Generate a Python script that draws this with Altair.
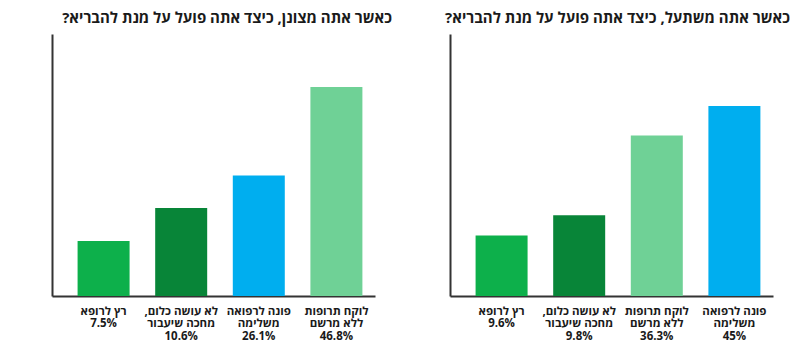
import altair as alt
import pandas as pd

# Keys and colours per answer category
cat_keys = ["doctor", "nothing", "alt_med", "otc"]
cat_colors = ["#0DB04B", "#088538", "#00AEEF", "#6FD196"]

# Panel 1: cold
cold_title = "?כאשר אתה מצונן, כיצד אתה פועל על מנת להבריא"
cold_labels = ["רץ לרופא", ",לא עושה כלום|מחכה שיעבור", "פונה לרפואה|משלימה", "לוקח תרופות|ללא מרשם"]
cold_pct = ["7.5%", "10.6%", "26.1%", "46.8%"]
cold_keys = ["doctor", "nothing", "alt_med", "otc"]
cold_bar = [21.0, 33.6, 46.0, 79.8]  # bar heights (% of axis)

# Panel 2: cough
cough_title = "?כאשר אתה משתעל, כיצד אתה פועל על מנת להבריא"
cough_labels = ["רץ לרופא", ",לא עושה כלום|מחכה שיעבור", "לוקח תרופות|ללא מרשם", "פונה לרפואה|משלימה"]
cough_pct = ["9.6%", "9.8%", "36.3%", "45%"]
cough_keys = ["doctor", "nothing", "otc", "alt_med"]
cough_bar = [23.1, 30.8, 61.3, 72.5]

FONT = "Open Sans"


def panel(title, labels, pcts, keys, heights):
    df = pd.DataFrame({
        "label": [l + "|" + p for l, p in zip(labels, pcts)],
        "h": heights,
        "key": keys,
    })
    return alt.Chart(
        df,
        title=alt.TitleParams(title, anchor="end", fontSize=15, font=FONT,
                              fontWeight="bold", dx=17, offset=8, color="#1a1a1a"),
    ).mark_bar().encode(
        x=alt.X("label:N", sort=None,
                scale=alt.Scale(paddingInner=0.33, paddingOuter=0.246, align=0.67),
                axis=alt.Axis(title=None, labelAngle=0,
                              labelExpr="split(datum.label, '|')",
                              ticks=False, labelFont=FONT, labelFontSize=11.5,
                              labelFontWeight="bold", labelColor="#1a1a1a",
                              labelPadding=9, labelLineHeight=12.8,
                              domainColor="#333333", domainWidth=2, labelLimit=0)),
        y=alt.Y("h:Q", scale=alt.Scale(domain=[0, 100]),
                axis=alt.Axis(title=None, labels=False, ticks=False, grid=False,
                              domainColor="#333333", domainWidth=2)),
        color=alt.Color("key:N", scale=alt.Scale(domain=cat_keys, range=cat_colors),
                        legend=None),
    ).properties(width=323, height=262)


left = panel(cold_title, cold_labels, cold_pct, cold_keys, cold_bar)
right = panel(cough_title, cough_labels, cough_pct, cough_keys, cough_bar)

chart = alt.hconcat(left, right, spacing=53).properties(
    padding={"left": 44, "top": 3, "right": 0, "bottom": 3}
).configure_view(stroke=None)

chart.save("out.html", embed_options={"renderer": "svg", "actions": False})
